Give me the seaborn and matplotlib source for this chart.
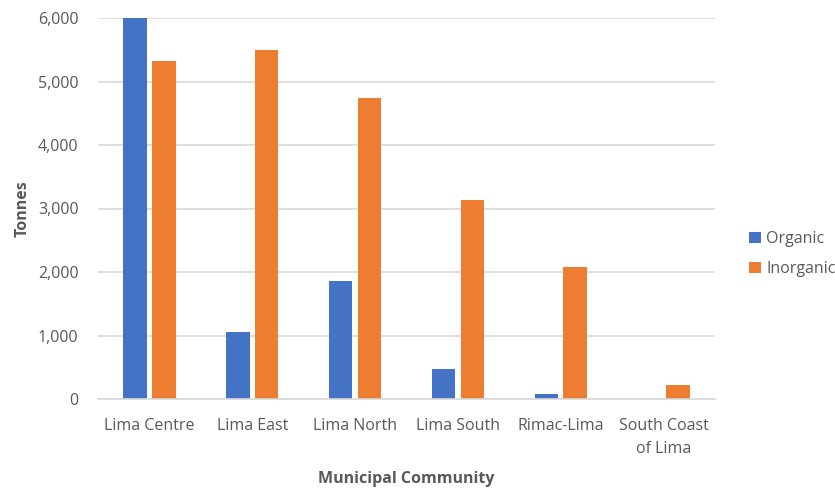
import numpy as np
import pandas as pd
import matplotlib
matplotlib.use("Agg")
import matplotlib.pyplot as plt
import seaborn as sns
from matplotlib.ticker import FuncFormatter

# data
communities = ["Lima Centre", "Lima East", "Lima North", "Lima South",
               "Rimac-Lima", "South Coast\nof Lima"]
organic = [6000, 1060, 1855, 480, 80, 0]
inorganic = [5330, 5500, 4745, 3140, 2075, 225]
series_names = ["Organic", "Inorganic"]
yticks = [0, 1000, 2000, 3000, 4000, 5000, 6000]

df = pd.DataFrame({
    "community": communities * 2,
    "type": [series_names[0]] * len(communities) + [series_names[1]] * len(communities),
    "tonnes": organic + inorganic,
})

sns.set_style("white")
plt.rcParams["font.family"] = ["Open Sans", "DejaVu Sans"]

text_col = "#595959"
grid_col = "#D9D9D9"

fig = plt.figure(figsize=(8.35, 4.88), dpi=100)
ax = fig.add_axes([98 / 835, 1 - 399 / 488, (715 - 98) / 835, (399 - 18) / 488])

sns.barplot(data=df, x="community", y="tonnes", hue="type", order=communities,
            hue_order=series_names, palette=["#4472C4", "#ED7D31"], saturation=1,
            width=0.56, gap=0.18, linewidth=0, ax=ax, legend=True)

ax.set_ylim(0, 6000)
ax.set_yticks(yticks)
ax.yaxis.set_major_formatter(FuncFormatter(lambda v, p: f"{int(v):,}"))
ax.grid(axis="y", color=grid_col, linewidth=1.2)
ax.set_axisbelow(True)
for s in ["top", "right", "left"]:
    ax.spines[s].set_visible(False)
ax.spines["bottom"].set_color(grid_col)
ax.spines["bottom"].set_linewidth(1.2)

ax.tick_params(axis="both", length=0, labelsize=11.5, labelcolor=text_col)
ax.tick_params(axis="y", pad=14)
ax.tick_params(axis="x", pad=14)
for lbl in ax.get_xticklabels():
    lbl.set_linespacing(1.55)

ax.set_xlabel("Municipal Community", fontsize=11.5, fontweight="bold", color=text_col)
ax.xaxis.set_label_coords(0.5, -(471 - 399) / 381)
ax.set_ylabel("Tonnes", fontsize=11.5, fontweight="bold", color=text_col, labelpad=5)

handles, labels = ax.get_legend_handles_labels()
ax.get_legend().remove()
fig.legend(handles, labels, loc="center left", bbox_to_anchor=(735 / 835, 1 - 254 / 488),
           frameon=False, fontsize=11.5, labelcolor=text_col, handlelength=0.7,
           handleheight=0.7, handletextpad=0.35, labelspacing=0.9)

fig.savefig("out.png", dpi=100)
